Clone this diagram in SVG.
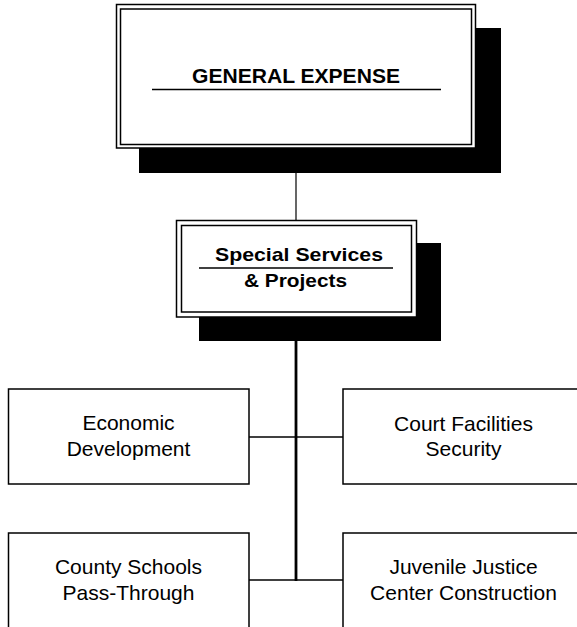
<svg xmlns="http://www.w3.org/2000/svg" width="577" height="627" viewBox="0 0 577 627">
<style>
.shadow{fill:#000;stroke:none}
.frame{fill:#fff;stroke:#000;stroke-width:1.5}
.inner{fill:none;stroke:#000;stroke-width:1.5}
.box{fill:#fff;stroke:#000;stroke-width:1.5}
.title{font-family:"Liberation Sans",Arial,sans-serif;font-weight:bold;fill:#000;text-anchor:middle}
.label{font-family:"Liberation Sans",Arial,sans-serif;font-size:21px;fill:#000;text-anchor:middle}
.rule{stroke:#000;stroke-width:1.5}
.conn{stroke:#000;fill:none}
</style>
<rect width="577" height="627" fill="#fff"/>
<g id="connectors">
<line class="conn" x1="296" y1="173" x2="296" y2="220" stroke-width="1.2"/>
<line class="conn" x1="296" y1="341" x2="296" y2="581" stroke-width="2.8"/>
<line class="conn" x1="249" y1="437" x2="343" y2="437" stroke-width="1.5"/>
<line class="conn" x1="249" y1="580" x2="343" y2="580" stroke-width="1.5"/>
</g>
<g id="general-expense">
<rect class="shadow" x="139" y="28" width="362" height="145"/>
<rect class="frame" x="116.5" y="4.5" width="359" height="143.5"/>
<rect class="inner" x="120.5" y="9" width="351" height="135.5"/>
<text class="title" x="296" y="83" font-size="20" textLength="208" lengthAdjust="spacingAndGlyphs">GENERAL EXPENSE</text>
<line class="rule" x1="152" y1="89.5" x2="441" y2="89.5"/>
</g>
<g id="special-services">
<rect class="shadow" x="199" y="243" width="242" height="98"/>
<rect class="frame" x="176.5" y="220.5" width="240" height="96.5"/>
<rect class="inner" x="181.5" y="225.5" width="230" height="86.5"/>
<text class="title" x="299" y="260.5" font-size="18.5" textLength="168" lengthAdjust="spacingAndGlyphs">Special Services</text>
<line class="rule" x1="199" y1="268" x2="393" y2="268"/>
<text class="title" x="295.5" y="287" font-size="18.5" textLength="103" lengthAdjust="spacingAndGlyphs">&amp; Projects</text>
</g>
<g id="economic-development">
<rect class="box" x="8.5" y="389" width="240.5" height="95"/>
<text class="label" x="128.5" y="430">Economic</text>
<text class="label" x="128.5" y="456">Development</text>
</g>
<g id="court-facilities">
<rect class="box" x="343" y="389" width="241" height="95"/>
<text class="label" x="463.5" y="430.5">Court Facilities</text>
<text class="label" x="463.5" y="456">Security</text>
</g>
<g id="county-schools">
<rect class="box" x="8.5" y="533" width="240.5" height="110"/>
<text class="label" x="128.5" y="574">County Schools</text>
<text class="label" x="128.5" y="600">Pass-Through</text>
</g>
<g id="juvenile-justice">
<rect class="box" x="343" y="533" width="241" height="110"/>
<text class="label" x="463.5" y="574">Juvenile Justice</text>
<text class="label" x="463.5" y="600">Center Construction</text>
</g>
</svg>
